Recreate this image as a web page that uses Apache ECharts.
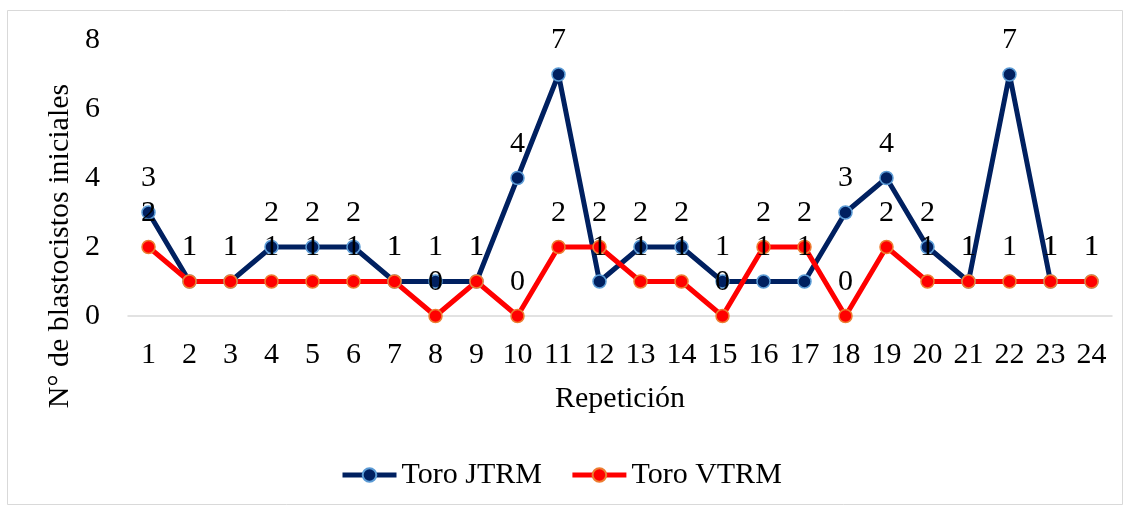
<!DOCTYPE html>
<html><head><meta charset="utf-8">
<script src="https://cdn.jsdelivr.net/npm/echarts@6/dist/echarts.min.js"></script>
<style>html,body{margin:0;padding:0;background:#fff;}#c{width:1130px;height:508px;}</style>
</head><body><div id="c"></div>
<script>
var categories = ['1','2','3','4','5','6','7','8','9','10','11','12','13','14','15','16','17','18','19','20','21','22','23','24'];
var toroJTRM = [3,1,1,2,2,2,1,1,1,4,7,1,2,2,1,1,1,3,4,2,1,7,1,1];
var toroVTRM = [2,1,1,1,1,1,1,0,1,0,2,2,1,1,0,2,2,0,2,1,1,1,1,1];
var yTicks = [0,2,4,6,8];

var font = 'Liberation Serif, Times New Roman, serif';
var fs = 30;
var chart = echarts.init(document.getElementById('c'), null, {renderer:'canvas'});
function mkSeries(name, data, lineColor, borderColor){
  return {
    name: name, type: 'line', data: data,
    symbol: 'circle', symbolSize: 13,
    lineStyle: {color: lineColor, width: 5},
    itemStyle: {color: lineColor, borderColor: borderColor, borderWidth: 1.5},
    label: {show: true, position: 'top', distance: 12, color: '#000', fontFamily: font, fontSize: fs},
    emphasis: {disabled: true},
    animation: false
  };
}
chart.setOption({
  animation: false,
  backgroundColor: '#fff',
  graphic: [
    {type:'rect', shape:{x:7.5,y:10.5,width:1115,height:494}, style:{fill:'none', stroke:'#d9d9d9', lineWidth:1}, silent:true, z:-1},
    {type:'text', x:60, y:246, rotation: Math.PI/2, style:{text:'N° de blastocistos iniciales', font:fs + 'px ' + font, fill:'#000', textAlign:'center', textVerticalAlign:'middle'}}
  ],
  grid: {left:128, right:18, top:40, bottom:192},
  legend: {
    bottom: 18, left: 340, padding: 0,
    itemWidth: 54, itemHeight: 17, itemGap: 28,
    lineStyle: {width: 5},
    textStyle: {fontFamily: font, fontSize: fs, color:'#000'},
    data: ['Toro JTRM','Toro VTRM']
  },
  xAxis: {
    type:'category', data: categories, boundaryGap: true,
    name: 'Repetición', nameLocation: 'middle', nameGap: 68,
    nameTextStyle: {fontFamily: font, fontSize: fs, color:'#000'},
    axisLine: {lineStyle:{color:'#d9d9d9', width:1.5}},
    axisTick: {show:false},
    axisLabel: {fontFamily: font, fontSize: fs, color:'#000', margin: 24, interval: 0}
  },
  yAxis: {
    type:'value', min: yTicks[0], max: yTicks[yTicks.length-1], interval: 2,
    axisLine: {show:false}, axisTick:{show:false}, splitLine:{show:false},
    axisLabel: {fontFamily: font, fontSize: fs, color:'#000', margin: 28}
  },
  series: [
    mkSeries('Toro JTRM', toroJTRM, '#002060', '#5b9bd5'),
    mkSeries('Toro VTRM', toroVTRM, '#ff0000', '#ed7d31')
  ]
});
</script></body></html>
